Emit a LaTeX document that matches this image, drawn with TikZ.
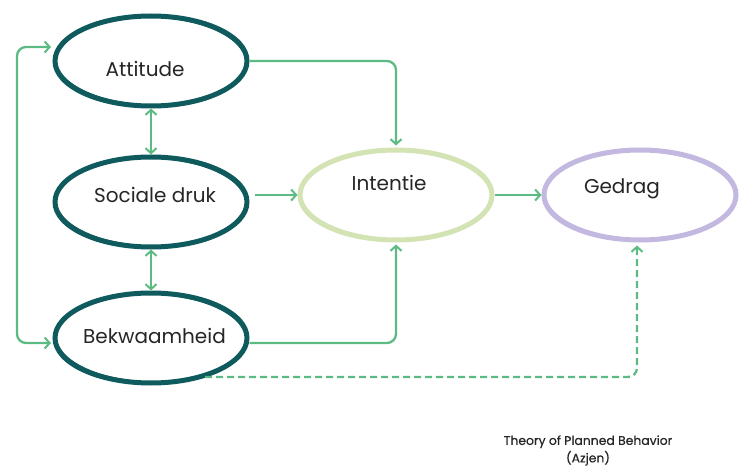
\documentclass[tikz,border=0pt]{standalone}
\usepackage{fontspec}
\setmainfont{Poppins}
\newfontfamily\capfont[FakeBold=0.5]{Poppins}
\usetikzlibrary{shapes.geometric,arrows.meta}

\definecolor{tealink}{HTML}{0F5A5D}
\definecolor{linkgreen}{HTML}{5CBB82}
\definecolor{intentfill}{HTML}{D3E3B4}
\definecolor{gedragink}{HTML}{C3B9E0}

\tikzset{
  oval/.style={ellipse, minimum width=192pt, minimum height=90pt, inner sep=0pt,
               line width=5pt, fill=white},
  factor/.style={oval, draw=tealink},
  intentoval/.style={oval, draw=intentfill},
  gedragoval/.style={oval, draw=gedragink},
  sketch/.style={line width=2pt},
  word/.style={font=\fontsize{20}{24}\selectfont, text=black!85},
  link/.style={draw=linkgreen, line width=2.3pt, rounded corners=9pt},
  tip/.style={-{Straight Barb[length=5pt,width=11pt,line width=2pt]}},
  bitip/.style={{Straight Barb[length=5pt,width=11pt,line width=2pt]}-{Straight Barb[length=5pt,width=11pt,line width=2pt]}},
  caption/.style={font=\capfont\fontsize{12.4}{17.5}\selectfont, text=black!85, align=center}
}

\begin{document}
\begin{tikzpicture}[x=1pt,y=-1pt]
  \useasboundingbox[fill=white] (0,0) rectangle (742,468);

  % the three determinants
  \node[factor] (att) at (151,61) {};
  \node[factor] (soc) at (151,202) {};
  \node[factor] (bek) at (151,338) {};
  % intention and behaviour
  \node[intentoval] (int) at (396,195) {};
  \node[gedragoval] (ged) at (640,195) {};

  % rough, hand-drawn strokes over the outlines
  \draw[sketch, tealink] (att.center) ellipse [x radius=95.5pt, y radius=44.5pt, rotate=-1.5];
  \draw[sketch, tealink] (soc.center) ellipse [x radius=95.5pt, y radius=44.5pt, rotate=-1.5];
  \draw[sketch, tealink] (bek.center) ellipse [x radius=95.5pt, y radius=44.5pt, rotate=-1.5];
  \draw[sketch, intentfill] (int.center) ellipse [x radius=95.5pt, y radius=44.5pt, rotate=-1.5];
  \draw[sketch, gedragink] (ged.center) ellipse [x radius=95.5pt, y radius=44.5pt, rotate=-1.5];

  % labels
  \node[word] (attT) at (145,69) {Attitude};
  \node[word] (socT) at (155,195) {Sociale druk};
  \node[word] (bekT) at (154.5,336) {Bekwaamheid};
  \node[word] (intT) at (389,183) {Intentie};
  \node[word] (gedT) at (622,189) {Gedrag};

  % free ends of the connectors
  \coordinate (attIn) at (51,47);
  \coordinate (bekIn) at (51,343);
  \coordinate (dashStart) at (205,377);

  % connectors
  \draw[link, bitip] (attIn) -- ++(-34,0) |- (bekIn);
  \draw[link, bitip] (att.south) -- (soc.north);
  \draw[link, bitip] (soc.south) -- (bek.north);
  \draw[link, tip] (att.east) -| ([yshift=2pt]int.north);
  \draw[link, tip, shorten <=5pt] (soc.east |- int.west) -- (int.west);
  \draw[link, tip] ([yshift=-5pt]bek.east) -| ([yshift=-2pt]int.south);
  \draw[link, tip] (int.east) -- (ged.west);
  \draw[link, tip, dashed, dash pattern=on 7pt off 4pt] (dashStart) -| ([xshift=-3pt,yshift=-3pt]ged.south);

  % caption
  \node[caption] (cap) at (588,450.5) {Theory of Planned Behavior\\(Azjen)};
\end{tikzpicture}
\end{document}
